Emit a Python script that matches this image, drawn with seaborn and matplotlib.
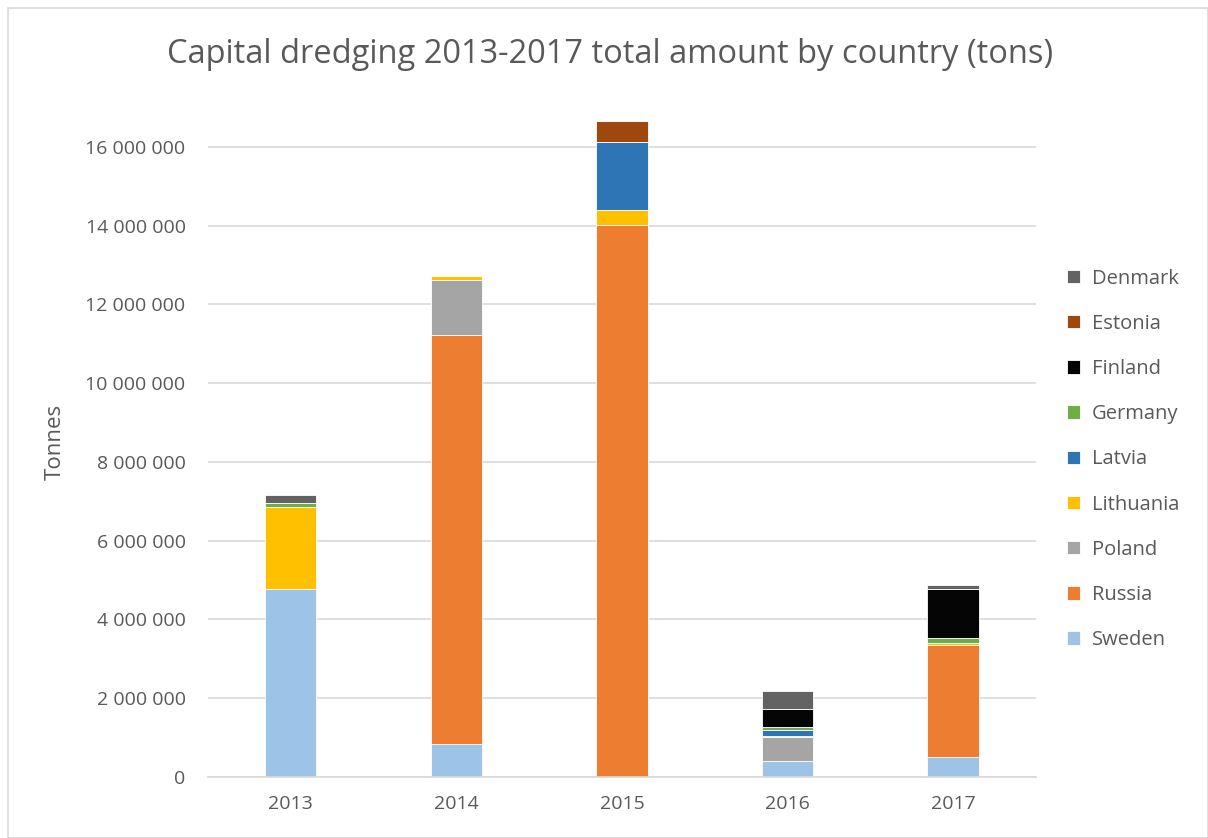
import numpy as np
import seaborn as sns
import matplotlib.pyplot as plt
from matplotlib.patches import Rectangle
from matplotlib.ticker import FuncFormatter

years = ["2013", "2014", "2015", "2016", "2017"]
# stack order bottom -> top
sweden = [4770000, 830000, 0, 400000, 500000]
russia = [0, 10400000, 14010000, 0, 2850000]
poland = [0, 1400000, 0, 620000, 0]
lithuania = [2080000, 100000, 400000, 20000, 50000]
latvia = [0, 0, 1720000, 150000, 0]
germany = [100000, 0, 0, 70000, 120000]
finland = [0, 0, 0, 460000, 1260000]
estonia = [0, 0, 530000, 0, 0]
denmark = [220000, 0, 0, 470000, 90000]

series = [
    ("Sweden", sweden, "#9DC3E6"),
    ("Russia", russia, "#ED7D31"),
    ("Poland", poland, "#A5A5A5"),
    ("Lithuania", lithuania, "#FFC000"),
    ("Latvia", latvia, "#2E75B6"),
    ("Germany", germany, "#70AD47"),
    ("Finland", finland, "#050505"),
    ("Estonia", estonia, "#9E480E"),
    ("Denmark", denmark, "#636363"),
]

sns.set_style("white")
plt.rcParams["font.family"] = ["Open Sans", "DejaVu Sans"]

fig = plt.figure(figsize=(12.08, 8.38), dpi=100)
ax = fig.add_axes([0.172, 0.0728, 0.6856, 0.8082])

bottom = np.zeros(len(years))
for name, vals, col in series:
    sns.barplot(x=years, y=vals, bottom=bottom, color=col, width=0.31, saturation=1,
                edgecolor="white", linewidth=0.6, label=name, ax=ax)
    bottom = bottom + np.array(vals)

ax.set_ylim(0, 17200000)
ax.set_xlim(-0.5, 4.5)
ax.set_yticks(np.arange(0, 16000001, 2000000))
ax.yaxis.set_major_formatter(FuncFormatter(lambda v, p: f"{int(v):,}".replace(",", " ")))
ax.grid(axis="y", color="#D9D9D9", linewidth=1.2)
ax.set_axisbelow(True)
for s in ["top", "right", "left"]:
    ax.spines[s].set_visible(False)
ax.spines["bottom"].set_color("#D9D9D9")
ax.spines["bottom"].set_linewidth(1.2)
ax.tick_params(axis="both", length=0, labelsize=14, labelcolor="#595959")
ax.tick_params(axis="y", pad=16)
ax.tick_params(axis="x", pad=13)
ax.set_ylabel("")
fig.text(0.0455, 0.4726, "Tonnes", rotation=90, ha="center", va="center",
         fontsize=16, color="#595959")
ax.set_xlabel("")

fig.suptitle("Capital dredging 2013-2017 total amount by country (tons)",
             x=0.505, y=0.955, fontsize=23.5, color="#595959")

handles, labels = ax.get_legend_handles_labels()
leg = ax.legend(handles[::-1], labels[::-1], loc="center left",
                bbox_to_anchor=(1.015, 0.469), frameon=False, fontsize=14.5,
                labelcolor="#595959", handlelength=0.65, handleheight=0.65,
                handletextpad=0.6, labelspacing=1.25)

fig.patches.append(Rectangle((0.007, 0.0), 0.993, 0.99, transform=fig.transFigure,
                             fill=False, edgecolor="#D9D9D9", linewidth=1.2))

fig.savefig("out.png", dpi=100)
